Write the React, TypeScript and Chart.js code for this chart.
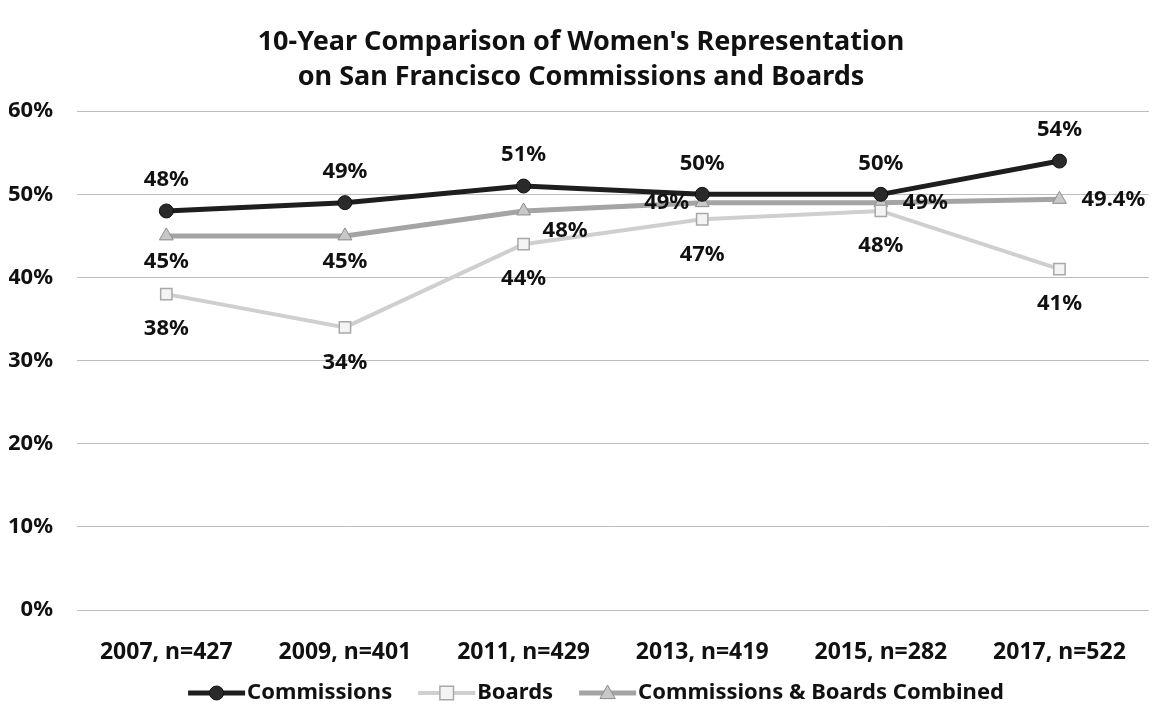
import React, { useEffect, useRef } from "react";
import { Chart, registerables } from "chart.js";

Chart.register(...registerables);

const categories = [
  "2007, n=427",
  "2009, n=401",
  "2011, n=429",
  "2013, n=419",
  "2015, n=282",
  "2017, n=522",
];
const commissions = [48, 49, 51, 50, 50, 54];
const boards = [38, 34, 44, 47, 48, 41];
const combined = [45, 45, 48, 49, 49, 49.4];
const yMin = 0;
const yMax = 60;
const yStep = 10;

const commissionsLabelPos = ["above", "above", "above", "above", "above", "above"];
const boardsLabelPos = ["below", "below", "below", "below", "below", "below"];
const combinedLabelPos = ["below", "below", "belowright", "left", "right", "right"];

const titleLines = [
  "10-Year Comparison of Women's Representation",
  "on San Francisco Commissions and Boards",
];

const FONT = "'Noto Sans', 'Open Sans', sans-serif";

function drawMarker(ctx: any, style: string, x: number, y: number, r: number) {
  if (style === "circle") {
    ctx.arc(x, y, r, 0, Math.PI * 2);
  } else if (style === "rect") {
    const s = r * 0.85;
    ctx.rect(x - s, y - s, s * 2, s * 2);
  } else {
    ctx.moveTo(x, y - r);
    ctx.lineTo(x + r * 0.95, y + r * 0.7);
    ctx.lineTo(x - r * 0.95, y + r * 0.7);
    ctx.closePath();
  }
}

const dataLabelPlugin = {
  id: "dataLabelPlugin",
  afterDatasetsDraw(chart: any) {
    const ctx = chart.ctx;
    ctx.save();
    ctx.font = `bold 22px ${FONT}`;
    ctx.fillStyle = "#111";
    ctx.textBaseline = "middle";
    chart.data.datasets.forEach((ds: any, i: number) => {
      const meta = chart.getDatasetMeta(i);
      meta.data.forEach((pt: any, j: number) => {
        const v = ds.data[j];
        const txt = `${v}%`;
        const pos = ds.labelPos[j];
        let x = pt.x;
        let y = pt.y;
        if (pos === "above") {
          ctx.textAlign = "center";
          y -= ds.labelOffset;
        } else if (pos === "below") {
          ctx.textAlign = "center";
          y += ds.labelOffset;
        } else if (pos === "right") {
          ctx.textAlign = "left";
          x += 22;
        } else if (pos === "belowright") {
          ctx.textAlign = "left";
          x += 19;
          y += 20;
        } else {
          ctx.textAlign = "right";
          x -= 13;
        }
        ctx.fillText(txt, x, y);
      });
    });
    ctx.restore();
  },
};

const legendPlugin = {
  id: "customLegend",
  afterDraw(chart: any) {
    const ctx = chart.ctx;
    ctx.save();
    ctx.font = `bold 22px ${FONT}`;
    ctx.textBaseline = "middle";
    const sample = 57;
    const gap = 2;
    const spacing = 26;
    const items = chart.data.datasets.map((ds: any) => ({
      ds,
      w: sample + gap + ctx.measureText(ds.label).width,
    }));
    const total =
      items.reduce((a: number, it: any) => a + it.w, 0) + spacing * (items.length - 1);
    let x = 596 - total / 2;
    const y = 693;
    items.forEach((it: any) => {
      const ds = it.ds;
      ctx.strokeStyle = ds.borderColor;
      ctx.lineWidth = ds.borderWidth;
      ctx.beginPath();
      ctx.moveTo(x, y);
      ctx.lineTo(x + sample, y);
      ctx.stroke();
      ctx.fillStyle = ds.pointBackgroundColor;
      ctx.strokeStyle = ds.pointBorderColor;
      ctx.lineWidth = ds.pointBorderWidth;
      ctx.beginPath();
      drawMarker(ctx, ds.pointStyle, x + sample / 2, y, ds.pointRadius);
      ctx.fill();
      ctx.stroke();
      ctx.fillStyle = "#111";
      ctx.textAlign = "left";
      ctx.fillText(ds.label, x + sample + gap, y);
      x += it.w + spacing;
    });
    ctx.restore();
  },
};

export default function App() {
  const ref = useRef<HTMLCanvasElement>(null);
  useEffect(() => {
    document.body.style.margin = "0";
    const canvas = ref.current!;
    const chart = new Chart(canvas, {
      type: "line",
      data: {
        labels: categories,
        datasets: [
          {
            label: "Commissions",
            data: commissions,
            borderColor: "#1e1e1e",
            borderWidth: 5,
            pointStyle: "circle",
            pointRadius: 7,
            pointBackgroundColor: "#2a2a2a",
            pointBorderColor: "#111",
            pointBorderWidth: 1,
            labelPos: commissionsLabelPos,
            labelOffset: 31,
          } as any,
          {
            label: "Boards",
            data: boards,
            borderColor: "#cfcfcf",
            borderWidth: 4,
            pointStyle: "rect",
            pointRadius: 8,
            pointBackgroundColor: "#f4f4f4",
            pointBorderColor: "#a8a8a8",
            pointBorderWidth: 1.5,
            labelPos: boardsLabelPos,
            labelOffset: 35,
          } as any,
          {
            label: "Commissions & Boards Combined",
            data: combined,
            borderColor: "#a4a4a4",
            borderWidth: 5,
            pointStyle: "triangle",
            pointRadius: 8,
            pointBackgroundColor: "#c8c8c8",
            pointBorderColor: "#8c8c8c",
            pointBorderWidth: 1,
            labelPos: combinedLabelPos,
            labelOffset: 26,
          } as any,
        ],
      },
      options: {
        animation: false,
        responsive: false,
        layout: { autoPadding: false, padding: { left: 9, right: 2, top: 0, bottom: 51 } },
        plugins: {
          legend: { display: false },
          tooltip: { enabled: false },
          title: {
            display: true,
            text: titleLines,
            color: "#111",
            font: { family: FONT, size: 27, weight: "bold", lineHeight: 1.3 },
            padding: { top: 25, bottom: 16 },
          },
        },
        scales: {
          x: {
            offset: true,
            grid: { display: false, drawTicks: false },
            border: { display: false },
            afterFit: (s: any) => {
              s.height = 54;
            },
            ticks: {
              color: "#111",
              font: { family: FONT, size: 23, weight: "bold" },
              padding: 29,
              maxRotation: 0,
            },
          },
          y: {
            min: yMin,
            max: yMax,
            grid: { color: "#bdbdbd", lineWidth: 1, drawTicks: false },
            border: { display: false },
            afterFit: (s: any) => {
              s.width = 68;
            },
            ticks: {
              stepSize: yStep,
              color: "#111",
              font: { family: FONT, size: 22, weight: "bold" },
              padding: 24,
              callback: (v: any) => `${v}%`,
            },
          },
        },
      },
      plugins: [dataLabelPlugin, legendPlugin],
    });
    return () => chart.destroy();
  }, []);
  return <canvas ref={ref} width={1155} height={715} style={{ display: "block" }} />;
}
